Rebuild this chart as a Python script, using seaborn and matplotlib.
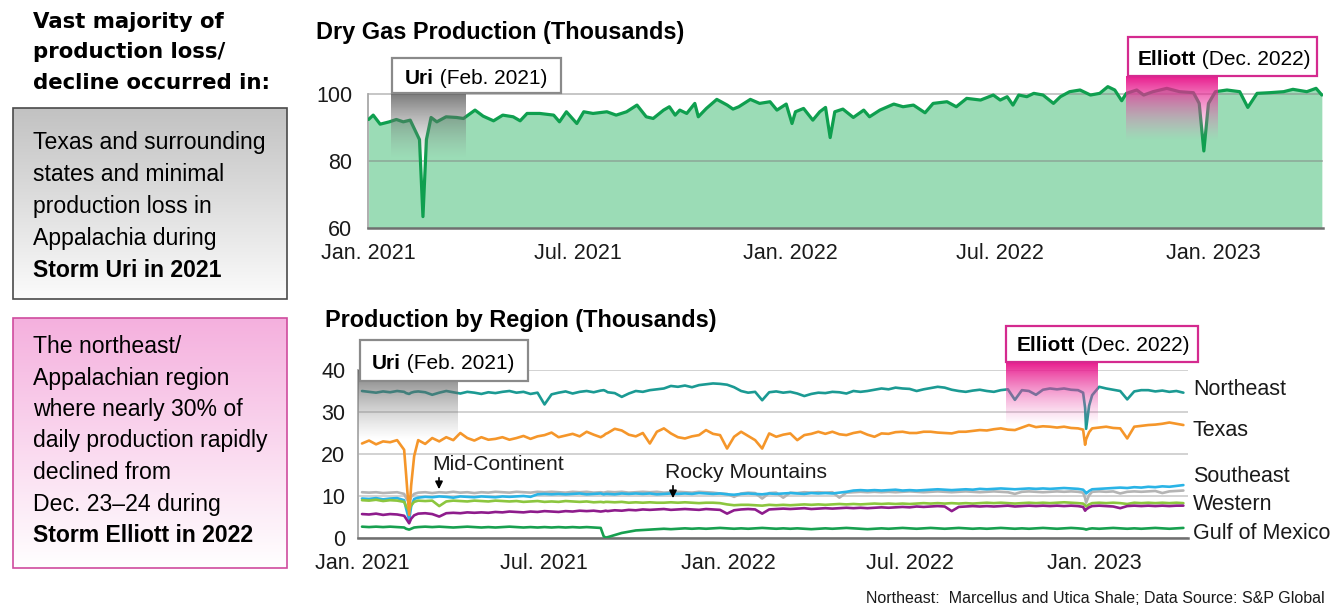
import numpy as np
import pandas as pd
import matplotlib
matplotlib.use("Agg")
import matplotlib.pyplot as plt
import matplotlib.dates as mdates
from matplotlib.patches import Rectangle
from matplotlib import font_manager
import seaborn as sns

START = pd.Timestamp("2021-01-01")

# ---- Dry gas production, US total (thousands); days counted from 2021-01-01 ----
total_days = [0, 4, 10, 18, 24, 30, 36, 40, 44, 47, 50, 54, 59, 67, 76, 82, 88, 92, 99, 108,
              116, 125, 131, 137, 148, 160, 165, 171, 180, 186, 194, 206, 214, 223, 232, 240, 246, 255, 260, 265,
              269, 275, 282, 285, 292, 301, 310, 315, 320, 330, 338, 347, 353, 361, 366, 369, 376, 384, 390, 395,
              399, 403, 410, 419, 428, 433, 442, 454, 462, 471, 481, 488, 500, 508, 517, 529, 540, 546, 552, 557,
              562, 569, 575, 583, 592, 598, 606, 615, 624, 632, 639, 645, 651, 655, 664, 670, 678, 690, 701, 713,
              718, 722, 726, 732, 742, 753, 760, 768, 779, 791, 799, 811, 819, 824]
total_vals = [92.4, 93.7, 91.0, 91.7, 92.4, 91.7, 92.2, 89.3, 86.4, 63.4, 86.4, 93.0, 91.7, 93.2, 93.0, 92.7, 94.2, 95.2, 93.4, 92.0,
              93.7, 93.2, 92.0, 94.2, 94.2, 93.7, 91.7, 94.7, 91.2, 94.7, 94.2, 94.7, 93.7, 94.7, 96.7, 93.2, 92.7, 95.2, 96.2, 93.7,
              95.2, 94.2, 97.2, 93.2, 95.7, 98.4, 96.7, 95.5, 96.2, 98.4, 97.2, 97.7, 95.2, 97.0, 91.2, 94.7, 95.7, 92.2, 94.7, 96.0,
              87.0, 94.7, 95.5, 93.0, 95.2, 93.2, 95.2, 97.0, 96.2, 96.7, 94.4, 97.2, 97.7, 96.2, 98.7, 98.2, 99.7, 98.2, 99.2, 96.7,
              99.7, 99.2, 100.2, 99.7, 97.2, 99.2, 100.7, 101.2, 99.7, 100.2, 102.2, 101.2, 98.0, 100.2, 101.2, 99.7, 100.7, 101.7, 100.7, 100.4,
              97.2, 83.0, 97.2, 100.7, 101.2, 100.7, 96.0, 100.2, 100.4, 100.7, 101.4, 100.7, 101.7, 99.7]

# ---- Production by region (thousands); days counted from 2021-01-01 ----
region_days = [0, 7, 14, 21, 28, 35, 42, 44, 47, 49,
               52, 56, 63, 70, 77, 84, 91, 98, 105, 112,
               119, 126, 133, 140, 147, 154, 161, 168, 175, 182,
               189, 196, 203, 210, 217, 224, 231, 238, 241, 243,
               245, 252, 259, 266, 273, 280, 287, 294, 301, 308,
               315, 322, 329, 336, 343, 350, 357, 364, 371, 378,
               385, 392, 399, 406, 413, 420, 427, 434, 441, 448,
               455, 462, 469, 476, 483, 490, 497, 504, 511, 518,
               525, 532, 539, 546, 553, 560, 567, 574, 581, 588,
               595, 602, 609, 616, 623, 630, 637, 644, 651, 658,
               665, 672, 679, 686, 693, 700, 707, 714, 719, 721,
               722, 725, 728, 735, 742, 749, 756, 763, 770, 777,
               784, 791, 798, 805, 812, 819]

northeast = [35.0, 34.8, 34.6, 34.9, 34.7, 35.0, 34.8, 34.5, 34.3, 34.6,
             34.8, 34.9, 34.7, 34.1, 34.6, 35.0, 34.7, 34.4, 34.8, 34.6,
             34.3, 34.7, 34.5, 34.8, 35.0, 34.6, 34.8, 34.3, 34.6, 31.8,
             34.2, 34.6, 34.9, 34.4, 34.8, 35.0, 34.7, 35.1, 35.2, 35.0,
             34.7, 34.5, 33.6, 34.4, 35.0, 34.8, 35.2, 35.4, 35.6, 36.2,
             36.0, 36.3, 35.9, 36.4, 36.6, 36.8, 36.7, 36.5, 35.9, 35.0,
             34.6, 34.8, 32.8, 34.7, 34.9, 34.6, 34.8, 34.4, 33.8, 34.3,
             34.6, 34.5, 34.8, 34.7, 34.4, 35.0, 34.8, 35.0, 35.3, 35.6,
             35.4, 35.8, 35.6, 35.5, 35.0, 35.4, 35.7, 36.0, 35.8, 35.3,
             35.0, 34.8, 35.1, 35.3, 35.0, 34.8, 35.2, 35.4, 32.9, 35.2,
             35.0, 34.1, 35.3, 35.6, 35.4, 35.6, 35.3, 35.2, 34.6, 31.0,
             26.0, 31.5, 34.0, 36.0, 35.6, 35.3, 35.0, 33.0, 34.9, 35.2,
             35.2, 34.9, 35.1, 34.8, 35.0, 34.6]

texas = [22.5, 23.2, 22.3, 23.0, 22.8, 23.3, 21.0, 15.0, 5.5, 12.5,
         19.5, 23.3, 22.4, 23.8, 23.0, 24.0, 23.3, 25.0, 23.8, 23.2,
         24.0, 23.4, 23.6, 24.0, 23.4, 23.8, 24.3, 23.6, 24.2, 24.5,
         25.1, 24.0, 24.4, 24.8, 24.2, 25.3, 24.6, 24.0, 24.4, 24.8,
         25.0, 26.0, 25.6, 24.6, 24.2, 25.0, 22.5, 25.3, 26.1, 24.9,
         24.0, 23.7, 24.2, 24.5, 25.7, 24.8, 24.5, 21.3, 24.1, 25.3,
         24.3, 23.3, 21.3, 24.9, 24.1, 24.6, 24.9, 23.3, 24.5, 24.8,
         25.3, 24.8, 25.3, 24.7, 24.5, 25.0, 25.3, 24.6, 24.1, 24.9,
         24.8, 25.2, 25.3, 25.0, 25.0, 25.3, 25.3, 25.1, 25.0, 24.9,
         25.3, 25.3, 25.5, 25.7, 25.6, 25.9, 26.1, 25.8, 25.7, 26.3,
         26.9, 26.4, 26.6, 26.5, 26.3, 26.5, 26.2, 26.1, 25.8, 22.2,
         23.5, 25.2, 26.1, 26.3, 26.5, 26.2, 26.1, 23.7, 26.5, 26.7,
         26.9, 27.0, 27.2, 27.5, 27.2, 26.9]

mid_continent = [10.9, 10.8, 10.9, 10.7, 10.8, 10.9, 10.5, 9.5, 8.5, 9.8,
                 10.5, 10.8, 10.9, 10.7, 10.9, 10.8, 11.0, 10.8, 10.9, 10.7,
                 10.9, 10.8, 11.0, 10.9, 10.8, 11.0, 10.9, 10.8, 11.0, 10.9,
                 11.0, 10.9, 10.8, 11.0, 10.9, 11.0, 10.8, 10.9, 10.8, 10.9,
                 11.0, 10.9, 11.0, 10.8, 10.9, 11.0, 10.9, 11.0, 10.8, 10.9,
                 11.0, 10.9, 10.8, 11.0, 10.9, 10.8, 10.6, 10.5, 9.8, 10.6,
                 10.8, 10.7, 9.4, 10.7, 10.8, 9.6, 10.8, 10.7, 10.9, 10.8,
                 10.9, 10.8, 10.9, 9.6, 10.8, 10.9, 11.0, 10.9, 11.0, 10.9,
                 11.0, 10.9, 11.0, 11.1, 11.0, 10.9, 11.0, 11.1, 11.0, 10.9,
                 11.0, 11.1, 11.0, 10.9, 11.0, 11.1, 11.0, 10.9, 10.5, 11.0,
                 11.1, 11.0, 10.9, 11.0, 11.1, 11.0, 11.1, 11.0, 10.8, 9.5,
                 8.4, 10.2, 11.0, 11.1, 11.0, 11.1, 10.6, 11.0, 11.1, 11.0,
                 11.1, 11.2, 10.7, 11.1, 11.2, 11.3]

southeast = [9.4, 9.3, 9.5, 9.2, 9.4, 9.5, 9.0, 7.0, 4.3, 7.5,
             9.3, 9.6, 9.8, 9.7, 9.9, 9.8, 9.6, 9.9, 9.8, 9.7,
             9.9, 9.8, 9.7, 9.9, 9.8, 9.9, 10.0, 9.8, 10.4, 10.5,
             10.4, 10.5, 10.4, 10.5, 10.6, 10.4, 10.5, 10.6, 10.4, 10.5,
             10.5, 10.4, 10.6, 10.5, 10.6, 10.5, 10.6, 10.4, 10.5, 10.6,
             10.5, 10.6, 10.5, 10.7, 10.6, 10.5, 10.6, 10.4, 10.3, 10.5,
             10.6, 10.5, 10.4, 10.6, 10.5, 10.6, 10.7, 10.6, 10.5, 10.7,
             10.6, 10.7, 10.6, 10.8, 11.0, 11.3, 11.4, 11.3, 11.4, 11.3,
             11.4, 11.5, 11.3, 11.4, 11.3, 11.4, 11.5, 11.6, 11.5, 11.4,
             11.5, 11.6, 11.5, 11.7, 11.6, 11.7, 11.8, 11.7, 11.6, 11.7,
             11.8, 11.7, 11.8, 11.7, 11.8, 11.9, 11.8, 11.7, 11.5, 11.0,
             10.6, 11.2, 11.6, 11.7, 11.8, 11.9, 12.0, 11.9, 12.1, 12.0,
             12.2, 12.1, 12.3, 12.2, 12.4, 12.6]

rocky_mountains = [9.0, 8.9, 9.1, 8.8, 9.0, 8.9, 8.6, 7.5, 6.5, 7.8,
                   8.6, 8.9, 8.8, 8.9, 7.6, 8.7, 8.9, 8.8, 8.7, 8.9,
                   8.8, 8.7, 8.9, 8.8, 8.7, 8.8, 8.6, 8.7, 8.8, 8.6,
                   8.7, 8.6, 8.8, 8.7, 8.6, 8.7, 8.5, 8.6, 8.5, 8.6,
                   8.6, 8.5, 8.6, 8.4, 8.5, 8.4, 8.5, 8.4, 8.4, 8.5,
                   8.4, 8.5, 8.4, 8.3, 8.4, 8.4, 8.3, 8.0, 7.8, 7.9,
                   7.9, 7.8, 7.7, 7.9, 7.8, 7.9, 7.8, 7.9, 8.0, 7.9,
                   8.0, 7.9, 8.0, 8.1, 8.0, 8.1, 8.0, 8.1, 8.2, 8.1,
                   8.2, 8.1, 8.2, 8.1, 8.2, 8.3, 8.2, 8.3, 8.2, 8.3,
                   8.2, 8.3, 8.2, 8.3, 8.4, 8.3, 8.4, 8.3, 8.2, 8.3,
                   8.4, 8.3, 8.4, 8.3, 8.4, 8.5, 8.4, 8.3, 8.2, 7.8,
                   7.5, 8.0, 8.3, 8.4, 8.3, 8.4, 8.3, 8.1, 8.4, 8.3,
                   8.4, 8.3, 8.4, 8.3, 8.4, 8.3]

western = [5.7, 5.6, 5.8, 5.5, 5.7, 5.6, 5.3, 4.6, 3.5, 4.6,
           5.4, 5.8, 5.9, 5.7, 5.1, 5.9, 6.0, 5.9, 6.1, 6.0,
           6.1, 6.0, 6.2, 6.1, 6.3, 6.2, 6.1, 6.3, 6.2, 6.4,
           6.3, 6.2, 6.4, 6.3, 6.5, 6.4, 6.5, 6.3, 6.4, 6.5,
           6.4, 6.6, 6.5, 6.7, 6.6, 6.8, 6.7, 6.8, 6.9, 6.7,
           6.8, 6.9, 6.8, 6.7, 6.9, 6.8, 6.7, 5.8, 6.6, 6.8,
           6.9, 6.8, 5.8, 6.8, 6.9, 7.0, 6.9, 7.0, 7.1, 6.9,
           7.0, 7.1, 7.0, 7.1, 7.2, 7.1, 7.2, 7.1, 7.2, 7.3,
           7.2, 7.3, 7.4, 7.3, 7.5, 7.4, 7.5, 7.6, 7.5, 6.4,
           7.4, 7.5, 7.6, 7.5, 7.6, 7.5, 7.6, 7.7, 7.5, 7.6,
           7.7, 7.6, 7.7, 7.6, 7.7, 7.6, 7.7, 7.6, 7.4, 6.5,
           6.8, 7.3, 7.6, 7.7, 7.6, 7.5, 7.1, 7.6, 7.7, 7.6,
           7.7, 7.6, 7.7, 7.6, 7.7, 7.7]

gulf_of_mexico = [2.7, 2.6, 2.7, 2.6, 2.7, 2.6, 2.5, 2.2, 2.0, 2.2,
                  2.5, 2.6, 2.7, 2.6, 2.7, 2.6, 2.5, 2.6, 2.7, 2.6,
                  2.5, 2.6, 2.5, 2.6, 2.7, 2.6, 2.5, 2.6, 2.5, 2.6,
                  2.5, 2.6, 2.5, 2.6, 2.5, 2.6, 2.5, 2.4, 0.4, 0.1,
                  0.2, 0.7, 1.2, 1.5, 1.8, 1.9, 2.0, 2.1, 2.2, 2.1,
                  2.2, 2.3, 2.2, 2.3, 2.2, 2.3, 2.4, 2.3, 2.2, 2.3,
                  2.2, 2.3, 2.4, 2.3, 2.2, 2.3, 2.2, 2.3, 2.2, 2.1,
                  2.2, 2.3, 2.2, 2.3, 2.4, 2.3, 2.2, 2.1, 2.2, 2.3,
                  2.2, 2.3, 2.4, 2.3, 2.2, 2.3, 2.4, 2.3, 2.2, 2.3,
                  2.4, 2.3, 2.2, 2.3, 2.2, 2.3, 2.4, 2.3, 2.2, 2.3,
                  2.2, 2.3, 2.4, 2.3, 2.2, 2.3, 2.4, 2.3, 2.2, 2.1,
                  2.0, 2.2, 2.3, 2.2, 2.3, 2.4, 2.3, 2.2, 2.3, 2.2,
                  2.3, 2.4, 2.3, 2.2, 2.3, 2.4]

# drawing order (first is drawn underneath)
region_names = ["Mid-Continent", "Southeast", "Rocky Mountains", "Western",
                "Gulf of Mexico", "Texas", "Northeast"]
region_series = [mid_continent, southeast, rocky_mountains, western,
                 gulf_of_mexico, texas, northeast]
region_colors = {"Northeast": "#1b9a93", "Texas": "#f5962a", "Southeast": "#2ab4e6",
                 "Mid-Continent": "#b4b4b4", "Rocky Mountains": "#8cc63f",
                 "Western": "#8e1c8c", "Gulf of Mexico": "#17a04f"}
end_labels = ["Northeast", "Texas", "Southeast", "Western", "Gulf of Mexico"]

# storm windows, in days from 2021-01-01
uri_top_span, elliott_top_span = (19, 83), (655, 734)
uri_bot_span, elliott_bot_span = (-4, 95), (642, 733)

# ---------------------------------------------------------------------------
sns.set_style("white")
installed = {f.name for f in font_manager.fontManager.ttflist}
BASE = "Liberation Sans" if "Liberation Sans" in installed else "DejaVu Sans"
plt.rcParams["font.family"] = [BASE, "DejaVu Sans"]

W, H = 1341, 608
fig = plt.figure(figsize=(W / 100, H / 100), dpi=100)
fig.patch.set_facecolor("white")


def to_dates(days):
    return START + pd.to_timedelta(np.asarray(days, dtype=float), unit="D")


def dnum(day):
    return mdates.date2num(START + pd.Timedelta(days=day))


def px_axes(x0, y0, x1, y1):
    return fig.add_axes([x0 / W, 1 - y1 / H, (x1 - x0) / W, (y1 - y0) / H])


def vgrad(ax, x0, x1, ytop, ybot, top_rgba, bot_rgba, zorder, clip=True):
    n = 256
    t = np.linspace(0, 1, n)[:, None]
    img = (1 - t) * np.array(top_rgba)[None, :] + t * np.array(bot_rgba)[None, :]
    img = img[:, None, :]
    im = ax.imshow(img, extent=[x0, x1, ybot, ytop], origin="upper", aspect="auto",
                   interpolation="bilinear", zorder=zorder)
    im.set_clip_on(clip)
    return im


TICK_FS = 15.5
TXT = "#1a1a1a"

# ---------------- top panel: total dry gas production ----------------
ax1 = px_axes(368, 75.6, 1323, 228)
tdates = to_dates(total_days)
ax1.fill_between(tdates, 60, total_vals, color="#9bdcb6", lw=0, zorder=1)
sns.lineplot(x=tdates, y=total_vals, ax=ax1, color="#0f9f4f", lw=2.3, zorder=4)
for yv in (80, 100):
    ax1.axhline(yv, color="#808080", alpha=0.45, lw=1.4, zorder=2)
ax1.set_ylim(60, 105.5)
ax1.set_yticks([60, 80, 100])
ax1.set_xlim(START - pd.Timedelta(days=0.5), START + pd.Timedelta(days=825))

gray_top = (0.33, 0.33, 0.33, 0.78)
gray_bot = (0.55, 0.55, 0.55, 0.0)
pink_top = (0.91, 0.06, 0.53, 0.97)
pink_bot = (0.93, 0.45, 0.75, 0.0)
vgrad(ax1, dnum(uri_top_span[0]), dnum(uri_top_span[1]), 100.3, 81.2, gray_top, gray_bot, 5)
vgrad(ax1, dnum(elliott_top_span[0]), dnum(elliott_top_span[1]), 105.5, 86.3, pink_top, pink_bot, 5)
ax1.set_ylim(60, 105.5)
ax1.set_xlim(START - pd.Timedelta(days=0.5), START + pd.Timedelta(days=825))

# ---------------- bottom panel: production by region ----------------
ax2 = px_axes(358, 370, 1188, 538)
frames = [pd.DataFrame({"date": to_dates(region_days), "value": vals, "region": name})
          for name, vals in zip(region_names, region_series)]
long_df = pd.concat(frames, ignore_index=True)
sns.lineplot(data=long_df, x="date", y="value", hue="region", hue_order=region_names,
             palette=region_colors, lw=1.9, legend=False, ax=ax2, zorder=3)
ax2.set_ylim(0, 40)
ax2.set_yticks([0, 10, 20, 30, 40])
ax2.grid(axis="y", color="#d2d2d2", lw=1.4)
ax2.set_axisbelow(True)
vgrad(ax2, dnum(uri_bot_span[0]), dnum(uri_bot_span[1]), 40, 23.5, gray_top, gray_bot, 5)
vgrad(ax2, dnum(elliott_bot_span[0]), dnum(elliott_bot_span[1]), 41.9, 26.9, pink_top, pink_bot, 5,
      clip=False)
ax2.set_ylim(0, 40)
ax2.set_xlim(START - pd.Timedelta(days=4), START + pd.Timedelta(days=823.6))

for ax, ypad in ((ax1, 11.5), (ax2, 9)):
    ax.xaxis.set_major_locator(mdates.MonthLocator(bymonth=[1, 7]))
    ax.xaxis.set_major_formatter(mdates.DateFormatter("%b. %Y"))
    ax.tick_params(axis="x", length=0, pad=11, labelsize=TICK_FS, labelcolor=TXT)
    ax.tick_params(axis="y", length=0, pad=ypad, labelsize=TICK_FS, labelcolor=TXT)
    ax.set_xlabel("")
    ax.set_ylabel("")
    ax.set_facecolor("none")
    for s in ("top", "right"):
        ax.spines[s].set_visible(False)
    ax.spines["bottom"].set_color("#6f6f6f")
    ax.spines["bottom"].set_linewidth(1.8)
    ax.spines["left"].set_color("#a8a8a8")
    ax.spines["left"].set_linewidth(1.3)
ax1.spines["left"].set_bounds(60, 100)

# ---------------- overlay in pixel units for text panels and callouts ----------------
ov = fig.add_axes([0, 0, 1, 1], zorder=20)
ov.set_xlim(0, W)
ov.set_ylim(H, 0)
ov.axis("off")

HEAD_FONT = ["DejaVu Sans"]
for txt, yb in (("Vast majority of", 28), ("production loss/", 58.5), ("decline occurred in:", 89)):
    ov.text(33, yb, txt, family=HEAD_FONT, weight="bold", fontsize=15.3, va="baseline", color="black")

# gray note box (Uri)
vgrad(ov, 12.7, 286.7, 108, 299, (0.76, 0.76, 0.76, 1), (0.985, 0.985, 0.985, 1), 1)
ov.add_patch(Rectangle((12.7, 108), 274, 191, fill=False, ec="#4a4a4a", lw=1.2, zorder=2))
uri_lines = ["Texas and surrounding", "states and minimal", "production loss in", "Appalachia during"]
for i, txt in enumerate(uri_lines):
    ov.text(33, 149 + 32 * i, txt, fontsize=16.6, va="baseline", color="black", zorder=3)
ov.text(33, 277, "Storm Uri in 2021", fontsize=16.6, weight="bold", va="baseline", color="black", zorder=3)

# pink note box (Elliott)
vgrad(ov, 12.7, 286.7, 318, 568, (0.96, 0.69, 0.87, 1), (1, 1, 1, 1), 1)
ov.add_patch(Rectangle((12.7, 318), 274, 250, fill=False, ec="#cf4c9e", lw=1.2, zorder=2))
elliott_lines = ["The northeast/", "Appalachian region", "where nearly 30% of",
                 "daily production rapidly", "declined from", "Dec. 23\u201324 during"]
for i, txt in enumerate(elliott_lines):
    ov.text(33, 353 + 31.5 * i, txt, fontsize=16.6, va="baseline", color="black", zorder=3)
ov.text(33, 542, "Storm Elliott in 2022", fontsize=16.6, weight="bold", va="baseline", color="black", zorder=3)

# chart titles
ov.text(316, 38.5, "Dry Gas Production (Thousands)", fontsize=16.9, weight="bold", va="baseline", color="black")
ov.text(325, 326.5, "Production by Region (Thousands)", fontsize=16.9, weight="bold", va="baseline", color="black")


def storm_tag(x0, y0, x1, y1, name, when, edge, tx, tb):
    ov.add_patch(Rectangle((x0, y0), x1 - x0, y1 - y0, fc="white", ec=edge, lw=1.6, zorder=6))
    t = ov.text(tx, tb, name, fontsize=15, weight="bold", va="baseline", color="black", zorder=7)
    ov.annotate(" " + when, xy=(1, 0), xycoords=t, va="bottom", ha="left",
                fontsize=15, color="black", zorder=7)


storm_tag(392, 58, 561, 93, "Uri", "(Feb. 2021)", "#8a8a8a", 405, 84)
storm_tag(1128, 37, 1317, 76, "Elliott", "(Dec. 2022)", "#d42a8f", 1138, 65)
storm_tag(360, 340, 528, 381, "Uri", "(Feb. 2021)", "#8a8a8a", 372, 369)
storm_tag(1006, 326, 1198, 362, "Elliott", "(Dec. 2022)", "#d42a8f", 1017, 351)

# line callouts
ov.text(432, 470, "Mid-Continent", fontsize=15.2, va="baseline", color=TXT)
ov.annotate("", xy=(439, 492), xytext=(439, 475),
            arrowprops=dict(arrowstyle="-|>", color="black", lw=1.2, mutation_scale=11))
ov.text(665, 478, "Rocky Mountains", fontsize=15.2, va="baseline", color=TXT)
ov.annotate("", xy=(673, 501), xytext=(673, 483),
            arrowprops=dict(arrowstyle="-|>", color="black", lw=1.2, mutation_scale=11))

# region names at the right end of the lines
for name, yb in zip(end_labels, (395, 436, 482, 510, 539)):
    ov.text(1193, yb, name, fontsize=15.5, va="baseline", color=TXT)

ov.text(1325, 603, "Northeast:  Marcellus and Utica Shale; Data Source: S&P Global",
        fontsize=11.5, ha="right", va="baseline", color=TXT)

fig.savefig("out.png", dpi=100, facecolor="white")
